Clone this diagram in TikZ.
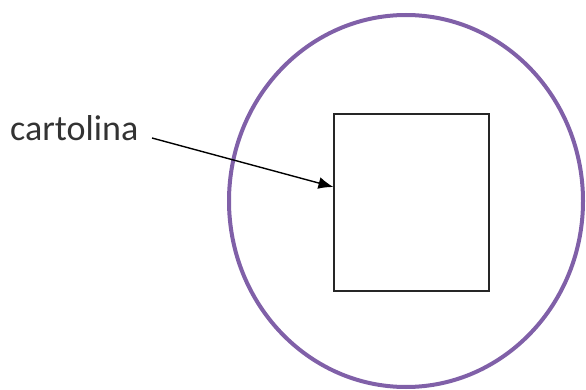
\documentclass[tikz,border=0pt]{standalone}
\usepackage{fontspec}
\setmainfont{Carlito}
\usetikzlibrary{shapes.geometric,arrows.meta}
\definecolor{ringpurple}{RGB}{128,96,168}
\begin{document}
\begin{tikzpicture}[x=1pt,y=-1pt,
  ring/.style={draw=ringpurple,line width=4pt},
  card/.style={draw=black!85,line width=1.1pt},
  label/.style={font=\fontsize{36}{40}\selectfont,text=black!80,inner sep=0pt,anchor=base west},
  pointer/.style={draw=black,line width=1.4pt,-{Latex[length=15pt,width=12pt]}}]
\useasboundingbox (0,0) rectangle (586,390);
\node[ring,ellipse,minimum width=354pt,minimum height=372pt,inner sep=0pt] (ring) at (406,201) {};
\node[card,minimum width=155pt,minimum height=177pt,inner sep=0pt] (box) at (411.5,202.5) {};
\node[label] (txt) at (10,141) {cartolina};
\coordinate (start) at (152,138);
\coordinate (tip) at ([yshift=15.5pt]box.west);
\draw[pointer] (start) -- (tip);
\end{tikzpicture}
\end{document}
